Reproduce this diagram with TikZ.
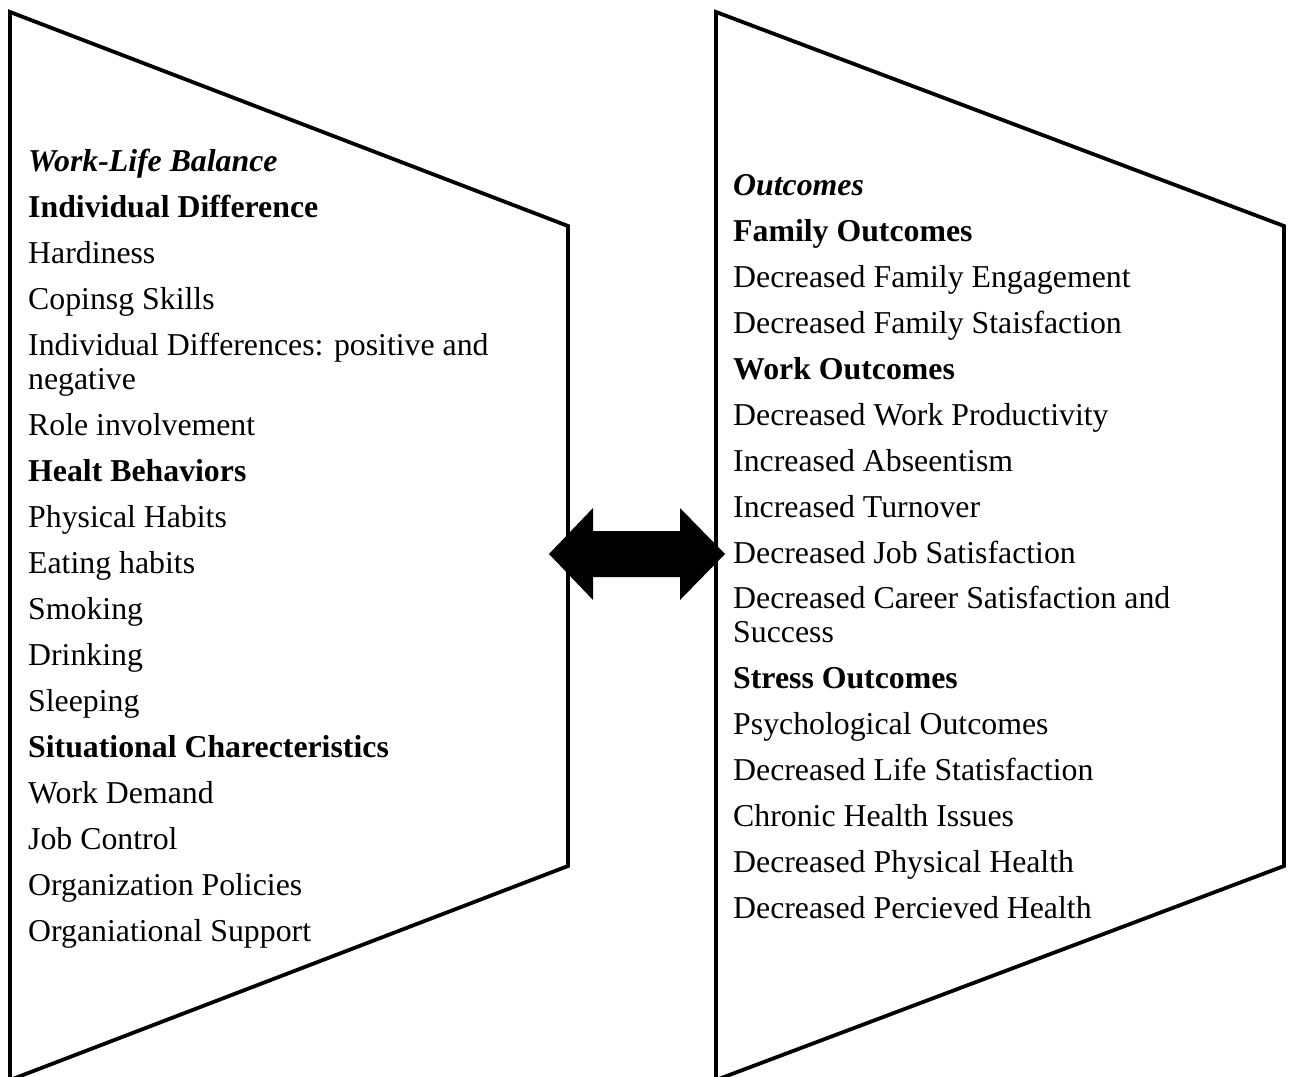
\documentclass[tikz,border=0pt]{standalone}
\usepackage{fontspec}
\setmainfont{Liberation Serif}
\begin{document}
\begin{tikzpicture}[x=1pt,y=-1pt,
  panel/.style={draw=black,line width=3.8pt,line join=miter},
  item/.style={anchor=base west,inner sep=0pt,font=\fontsize{31.8}{34}\selectfont},
  head/.style={item,font=\fontsize{31.8}{34}\selectfont\bfseries},
  title/.style={item,font=\fontsize{31.8}{34}\selectfont\bfseries\itshape},
  blockarrow/.style={fill=black,draw=none}]
\useasboundingbox (0,0) rectangle (1292,1076);

% the two panels
\draw[panel] (10,12) -- (568,226) -- (568,866) -- (10,1080) -- cycle;
\draw[panel] (716,12) -- (1284,226) -- (1284,866) -- (716,1080) -- cycle;

% double-headed block arrow between the panels
\coordinate (lt) at (549,554);
\coordinate (rt) at (725,554);
\fill[blockarrow] (lt) -- (593,508) -- (593,531) -- (680,531) -- (680,508)
  -- (rt) -- (680,600) -- (680,577) -- (593,577) -- (593,600) -- cycle;

% left panel text
\node[title] (wlb) at (28,171) {Work-Life Balance};
\node[head]  (l1)  at (28,217) {Individual Difference};
\node[item]  (l2)  at (28,263) {Hardiness};
\node[item]  (l3)  at (28,309) {Copinsg Skills};
\node[item]  (l4)  at (28,355) {Individual Differences: positive and};
\node[item]  (l4b) at (28,389) {negative};
\node[item]  (l5)  at (28,435) {Role involvement};
\node[head]  (l6)  at (28,481) {Healt Behaviors};
\node[item]  (l7)  at (28,527) {Physical Habits};
\node[item]  (l8)  at (28,573) {Eating habits};
\node[item]  (l9)  at (28,619) {Smoking};
\node[item]  (l10) at (28,665) {Drinking};
\node[item]  (l11) at (28,711) {Sleeping};
\node[head]  (l12) at (28,757) {Situational Charecteristics};
\node[item]  (l13) at (28,803) {Work Demand};
\node[item]  (l14) at (28,849) {Job Control};
\node[item]  (l15) at (28,895) {Organization Policies};
\node[item]  (l16) at (28,941) {Organiational Support};

% right panel text
\node[title] (out) at (733,195) {Outcomes};
\node[head]  (r1)  at (733,241) {Family Outcomes};
\node[item]  (r2)  at (733,287) {Decreased Family Engagement};
\node[item]  (r3)  at (733,333) {Decreased Family Staisfaction};
\node[head]  (r4)  at (733,379) {Work Outcomes};
\node[item]  (r5)  at (733,425) {Decreased Work Productivity};
\node[item]  (r6)  at (733,471) {Increased Abseentism};
\node[item]  (r7)  at (733,517) {Increased Turnover};
\node[item]  (r8)  at (733,563) {Decreased Job Satisfaction};
\node[item]  (r9)  at (733,608) {Decreased Career Satisfaction and};
\node[item]  (r9b) at (733,642) {Success};
\node[head]  (r10) at (733,688) {Stress Outcomes};
\node[item]  (r11) at (733,734) {Psychological Outcomes};
\node[item]  (r12) at (733,780) {Decreased Life Statisfaction};
\node[item]  (r13) at (733,826) {Chronic Health Issues};
\node[item]  (r14) at (733,872) {Decreased Physical Health};
\node[item]  (r15) at (733,918) {Decreased Percieved Health};
\end{tikzpicture}
\end{document}
